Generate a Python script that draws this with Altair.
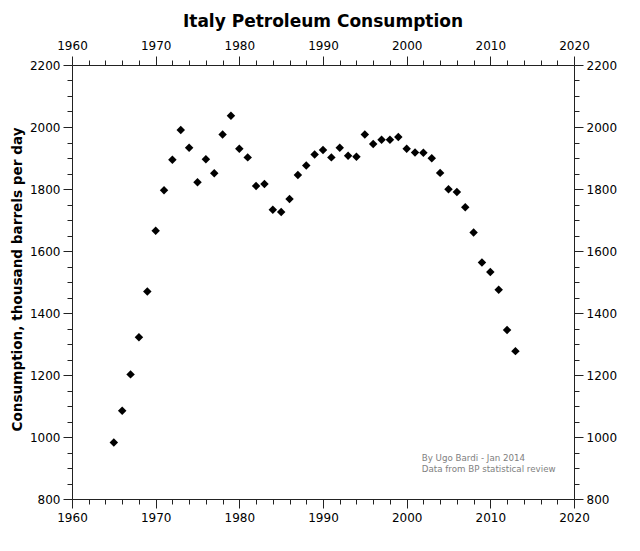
import altair as alt
import pandas as pd

years = list(range(1965, 2014))
consumption = [982, 1085, 1202, 1322, 1469, 1665, 1796, 1894, 1990, 1933,
               1822, 1896, 1851, 1976, 2036, 1930, 1902, 1810, 1816, 1733,
               1726, 1768, 1845, 1876, 1911, 1926, 1902, 1933, 1907, 1904,
               1976, 1945, 1959, 1959, 1968, 1930, 1918, 1917, 1899, 1852,
               1799, 1790, 1741, 1660, 1563, 1532, 1475, 1345, 1277]

note_lines = ["By Ugo Bardi - Jan 2014", "Data from BP statistical review"]
note_x = [2001.8, 2001.8]
note_y = [932, 897]

x_ticks = list(range(1960, 2021, 2))
y_ticks = list(range(800, 2201, 50))

df = pd.DataFrame({"year": years, "value": consumption})
notes = pd.DataFrame({"text": note_lines, "x": note_x, "y": note_y})

FONT = "DejaVu Sans"
x_major = {"condition": {"test": "datum.value % 10 === 0", "value": 9}, "value": 5}
y_major = {"condition": {"test": "datum.value % 200 === 0", "value": 9}, "value": 5}

xs = alt.Scale(domain=[1960, 2020], nice=False, zero=False)
ys = alt.Scale(domain=[800, 2200], nice=False, zero=False)

def xaxis(orient):
    return alt.Axis(orient=orient, values=x_ticks, format="d", title=None,
                    labelExpr="datum.value % 10 === 0 ? datum.label : ''",
                    tickSize=x_major, grid=False, labelPadding=4,
                    labelFont=FONT, labelFontSize=12, labelColor="#000",
                    domainColor="#222", tickColor="#222", labelFlush=False)

def yaxis(orient, title=None):
    if title:
        kw = dict(title=title, titleFont=FONT, titleFontSize=13.6, titleFontWeight="bold",
                  titleColor="#000", titleX=-55, titleY=214, titleAngle=270,
                  titleAlign="center", titleBaseline="middle")
    else:
        kw = dict(title=None)
    return alt.Axis(orient=orient, values=y_ticks, format="d",
                    labelExpr="datum.value % 200 === 0 ? datum.label : ''",
                    tickSize=y_major, grid=False, labelPadding=3,
                    labelFont=FONT, labelFontSize=12, labelColor="#000",
                    domainColor="#222", tickColor="#222", labelFlush=False, **kw)

points = alt.Chart(df).mark_point(shape="diamond", filled=True, color="black",
                                  size=72, opacity=1).encode(
    x=alt.X("year:Q", scale=xs, axis=xaxis("bottom")),
    y=alt.Y("value:Q", scale=ys,
            axis=yaxis("left", "Consumption, thousand barrels per day")),
)

text = alt.Chart(notes).mark_text(align="left", baseline="middle", font=FONT,
                                  fontSize=8.7, color="#808080").encode(
    x=alt.X("x:Q", scale=xs, axis=xaxis("top")),
    y=alt.Y("y:Q", scale=ys, axis=yaxis("right")),
    text="text:N",
)

chart = alt.layer(points, text).resolve_scale(x="independent", y="independent").properties(
    width=502, height=434,
    autosize=alt.AutoSizeParams(type="none"),
    padding={"left": 64, "top": 57, "right": 58, "bottom": 44},
    title=alt.Title("Italy Petroleum Consumption", font=FONT, fontSize=17,
                    fontWeight="bold", color="#000", offset=8),
).configure_view(stroke=None).configure(background="white")

chart.save("out.html", embed_options={"renderer": "svg", "actions": False})
